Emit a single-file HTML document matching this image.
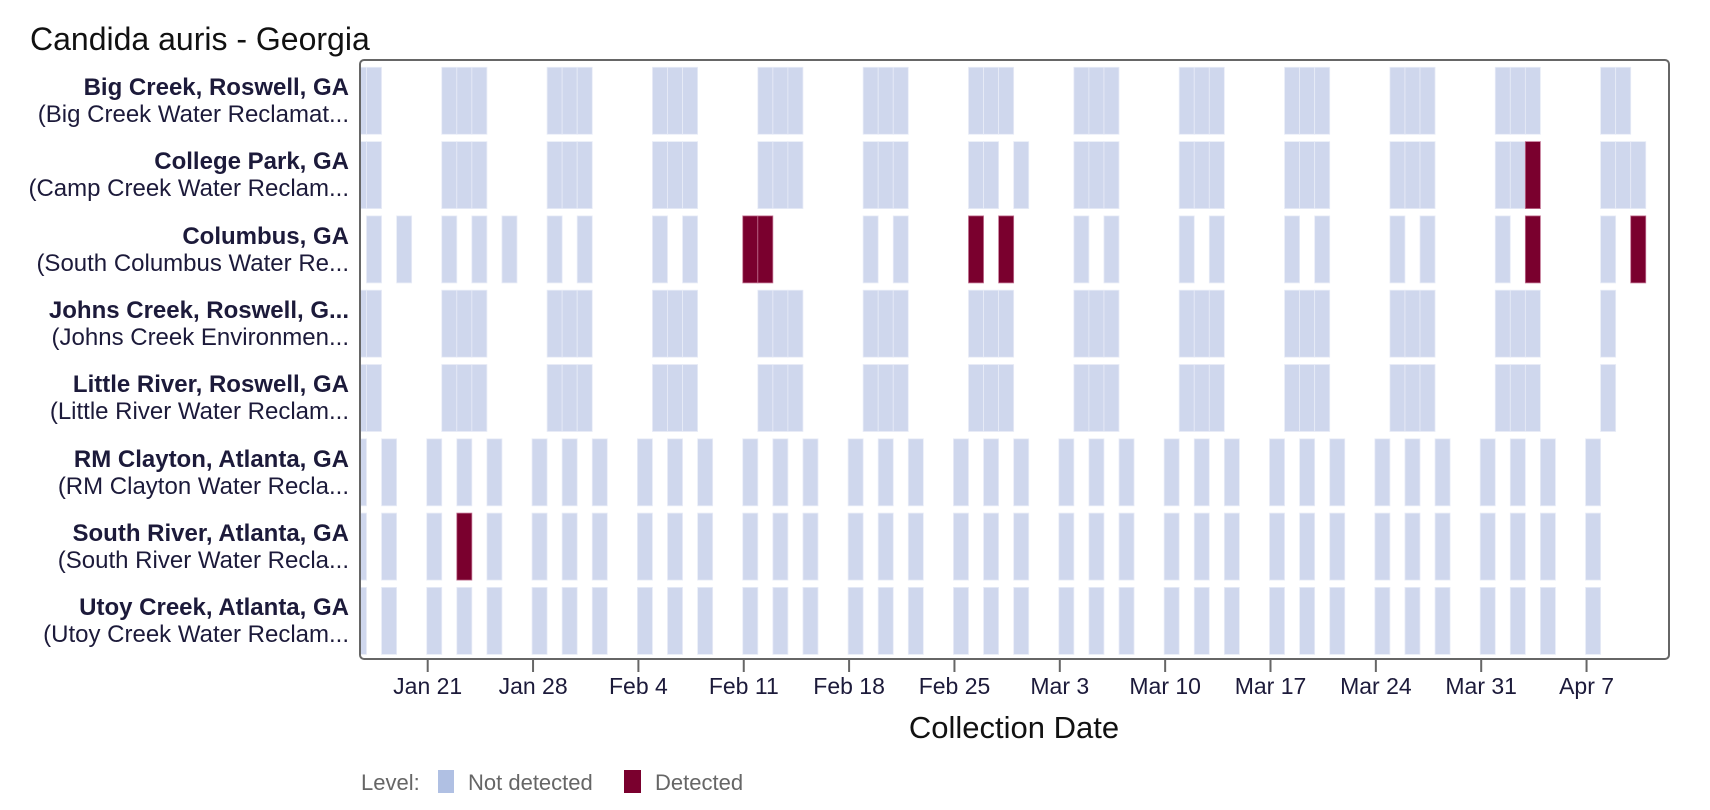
<!DOCTYPE html>
<html><head><meta charset="utf-8">
<style>
html,body{margin:0;padding:0;background:#fff;}
svg{display:block;font-family:"Liberation Sans",Arial,sans-serif;}
</style></head>
<body>
<svg id="s" width="1710" height="810" viewBox="0 0 1710 810" xmlns="http://www.w3.org/2000/svg">
<rect width="1710" height="810" fill="#fff"/>
<text x="30" y="50" font-size="32" fill="#111">Candida auris - Georgia</text>
<defs><clipPath id="c"><rect x="361" y="61" width="1307" height="597"/></clipPath></defs>
<g id="bars" clip-path="url(#c)"></g>
<rect x="360" y="60" width="1309" height="599" rx="4" fill="none" stroke="#666" stroke-width="2"/>
<g fill="#1c1a3a" font-size="24" text-anchor="end">
<text x="349" y="95" font-weight="bold">Big Creek, Roswell, GA</text>
<text x="349" y="122">(Big Creek Water Reclamat...</text>
<text x="349" y="169" font-weight="bold">College Park, GA</text>
<text x="349" y="196">(Camp Creek Water Reclam...</text>
<text x="349" y="244" font-weight="bold">Columbus, GA</text>
<text x="349" y="271">(South Columbus Water Re...</text>
<text x="349" y="318" font-weight="bold">Johns Creek, Roswell, G...</text>
<text x="349" y="345">(Johns Creek Environmen...</text>
<text x="349" y="392" font-weight="bold">Little River, Roswell, GA</text>
<text x="349" y="419">(Little River Water Reclam...</text>
<text x="349" y="467" font-weight="bold">RM Clayton, Atlanta, GA</text>
<text x="349" y="494">(RM Clayton Water Recla...</text>
<text x="349" y="541" font-weight="bold">South River, Atlanta, GA</text>
<text x="349" y="568">(South River Water Recla...</text>
<text x="349" y="615" font-weight="bold">Utoy Creek, Atlanta, GA</text>
<text x="349" y="642">(Utoy Creek Water Reclam...</text>
</g>
<g id="ticks" stroke="#666" stroke-width="2"></g>
<g fill="#1c1a3a" font-size="23" text-anchor="middle">
<text x="427.7" y="694">Jan 21</text>
<text x="533.1" y="694">Jan 28</text>
<text x="638.4" y="694">Feb 4</text>
<text x="743.8" y="694">Feb 11</text>
<text x="849.1" y="694">Feb 18</text>
<text x="954.5" y="694">Feb 25</text>
<text x="1059.8" y="694">Mar 3</text>
<text x="1165.2" y="694">Mar 10</text>
<text x="1270.5" y="694">Mar 17</text>
<text x="1375.9" y="694">Mar 24</text>
<text x="1481.2" y="694">Mar 31</text>
<text x="1586.6" y="694">Apr 7</text>
</g>
<text x="1014" y="738" font-size="31" fill="#111" text-anchor="middle">Collection Date</text>
<text x="361" y="790" font-size="22" fill="#666">Level:</text>
<rect x="438" y="770" width="16" height="23" fill="#b0c0e3"/>
<text x="468" y="790" font-size="22" fill="#666">Not detected</text>
<rect x="624" y="770" width="17" height="23" fill="#7a002e"/>
<text x="655" y="790" font-size="22" fill="#666">Detected</text>
</svg>
<script>
(function(){
var NS="http://www.w3.org/2000/svg";
var g=document.getElementById('bars'),t=document.getElementById('ticks');
function x(d){return 427.7+15.05*d;}
var bc=[-5,-4],jc=[-5,-4],cp=[-5,-4],co=[-4,-2],rm=[-5,-3];
for(var w=0;w<=10;w++){bc.push(7*w+1,7*w+2,7*w+3);jc.push(7*w+1,7*w+2,7*w+3);}
bc.push(78,79);jc.push(78);
cp=cp.concat([1,2,3,8,9,10,15,16,17,22,23,24,29,30,31,36,37,39,43,44,45,50,51,52,57,58,59,64,65,66,71,72,'73D',78,79,80]);
co=co.concat([1,3,5,8,10,15,17,'21D','22D',29,31,'36D','38D',43,45,50,52,57,59,64,66,71,'73D',78,'80D']);
for(var w=0;w<=10;w++){rm.push(7*w,7*w+2,7*w+4);}
rm.push(77);
var sr=rm.map(function(d){return d===2?'2D':d;});
var rows=[bc,cp,co,jc,jc,rm,sr,rm];
rows.forEach(function(r,i){
 var y=67.3+i*74.3;
 r.forEach(function(v){
  var det=typeof v==='string';var d=parseInt(v);
  var e=document.createElementNS(NS,'rect');
  e.setAttribute('x',x(d)-1);e.setAttribute('y',y);
  e.setAttribute('width',15.05);e.setAttribute('height',67);
  e.setAttribute('fill',det?'#7a002e':'#cfd7ed');
  e.setAttribute('stroke',det?'#c07090':'#e8ecf7');e.setAttribute('stroke-width','0.8');
  g.appendChild(e);
 });
});
for(var k=0;k<12;k++){
 var l=document.createElementNS(NS,'line');var xx=x(7*k);
 l.setAttribute('x1',xx);l.setAttribute('x2',xx);l.setAttribute('y1',659);l.setAttribute('y2',672);
 t.appendChild(l);
}
})();
</script>
</body></html>
